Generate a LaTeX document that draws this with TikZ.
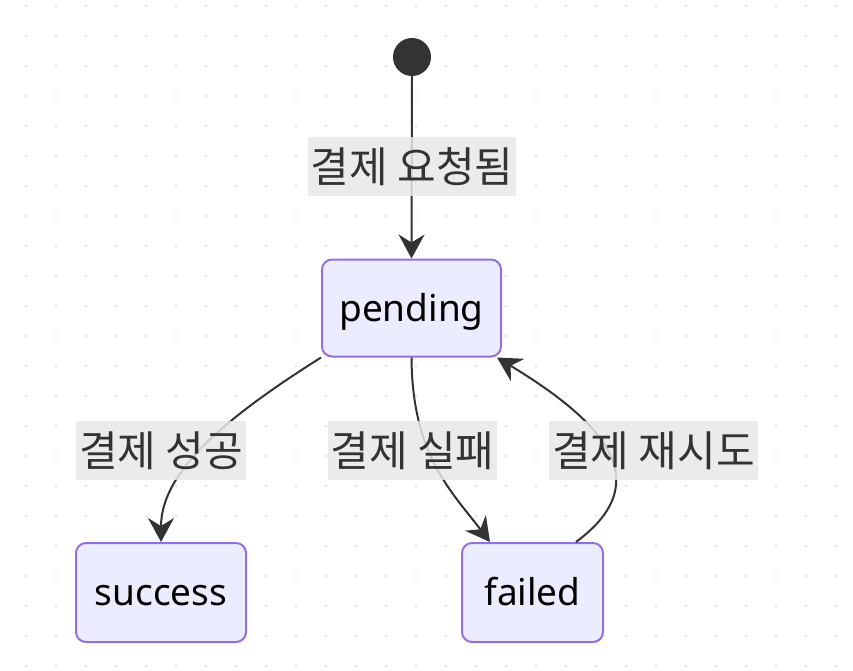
\documentclass[tikz,border=0pt]{standalone}
\usepackage{fontspec}
\setmainfont{Noto Sans}
\newfontfamily\krfont{Noto Sans CJK KR}
\usetikzlibrary{arrows.meta,calc}
\definecolor{edgec}{HTML}{333333}
\definecolor{boxfill}{HTML}{ECECFF}
\definecolor{boxline}{HTML}{9370DB}
\definecolor{lblfill}{HTML}{E8E8E8}
\definecolor{dotc}{HTML}{E6E6E6}
\tikzset{
  statebox/.style={draw=boxline, line width=2pt, fill=boxfill, rounded corners=10pt,
    minimum height=97pt, font=\fontsize{37}{44}\selectfont, text=black, inner sep=0pt,
    text height=28pt, text depth=2pt},
  startdot/.style={circle, fill=edgec, draw=edgec, line width=1pt, minimum size=37pt, inner sep=0pt},
  conn/.style={draw=edgec, line width=2pt, -{Stealth[length=24pt, width=26pt, inset=8pt]}},
  lbl/.style={fill=lblfill, fill opacity=0.85, text opacity=1, text=edgec,
    font=\krfont\fontsize{42}{48}\selectfont, minimum height=59pt, inner xsep=3pt, inner ysep=0pt},
}
\begin{document}
\begin{tikzpicture}[x=1pt, y=-1pt]
\useasboundingbox (0,0) rectangle (853,671);
\fill[white] (0,0) rectangle (853,671);
% dot grid
\foreach \i in {0,...,27}{
  \foreach \j in {0,...,22}{
    \fill[dotc] (26+30*\i, 6+30*\j) circle (1.6pt);
  }
}
% states
\node[startdot] (start) at (412,57) {};
\node[statebox, minimum width=179pt] (pending) at (411.5,308) {pending};
\node[statebox, minimum width=170pt, minimum height=99pt] (success) at (161,592.5) {success};
\node[statebox, minimum width=141pt, minimum height=99pt] (failed) at (532.5,592.5) {failed};
% connectors
\draw[conn] (start.south) -- (pending.north);
\draw[conn] (pending.south west) .. controls (230,415) and (161,470) .. (success.north);
\draw[conn] (pending.south) .. controls (412,455) and (452,492) .. ([xshift=-42.5pt]failed.north);
\draw[conn] ([xshift=43.5pt]failed.north) .. controls (660,480) and (600,420) .. ([xshift=-5pt]pending.south east);
% labels
\node[lbl] (l1) at (412,166.5) {결제 요청됨};
\node[lbl] (l2) at (161,450.5) {결제 성공};
\node[lbl] (l3) at (412.5,450.5) {결제 실패};
\node[lbl] (l4) at (653.5,450.5) {결제 재시도};
\end{tikzpicture}
\end{document}
